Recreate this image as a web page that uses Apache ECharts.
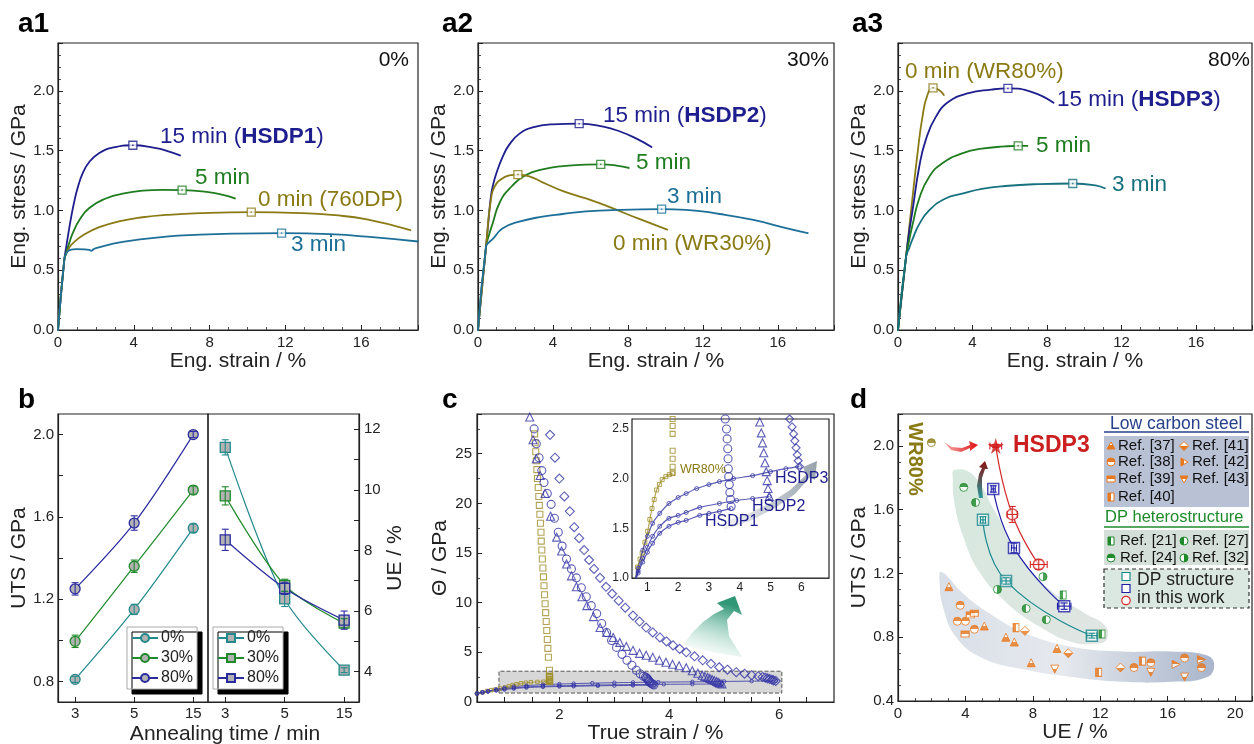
<!DOCTYPE html>
<html><head><meta charset="utf-8">
<script src="https://cdn.jsdelivr.net/npm/echarts@6/dist/echarts.min.js"></script>
<style>html,body{margin:0;padding:0;background:#fff}#c{width:1254px;height:744px}</style>
</head><body><div id="c"></div>
<script>
// ---------------- DATA ----------------
// a1 (0% pre-strain): [strain %, stress GPa]
const a1_15 = [[0,0],[0.33,0.585],[0.42,0.68],[0.56,0.82],[0.69,0.94],[0.86,1.075],[1.04,1.19],[1.3,1.31],[1.65,1.405],[2.18,1.48],[2.89,1.525],[3.95,1.545],[5.17,1.52],[5.7,1.5],[6.44,1.46]];
const a1_5  = [[0,0],[0.33,0.585],[0.42,0.64],[0.6,0.73],[0.78,0.81],[1.13,0.92],[1.65,1.02],[2.53,1.10],[3.41,1.14],[4.47,1.165],[5.5,1.172],[6.55,1.17],[7.84,1.155],[8.7,1.13],[9.34,1.1]];
const a1_0  = [[0,0],[0.33,0.585],[0.42,0.635],[0.6,0.69],[0.78,0.725],[1.3,0.79],[2.18,0.86],[3.41,0.915],[4.47,0.943],[5.7,0.962],[7.5,0.977],[10.2,0.985],[12.8,0.978],[14.6,0.96],[16.3,0.925],[18.6,0.836]];
const a1_3  = [[0,0],[0.33,0.585],[0.42,0.635],[0.52,0.66],[0.7,0.672],[0.95,0.676],[1.4,0.675],[1.65,0.67],[1.75,0.662],[1.85,0.672],[2.0,0.684],[3.41,0.736],[5.7,0.78],[7.5,0.797],[9.26,0.806],[11.8,0.81],[14.6,0.8],[16.3,0.78],[19.0,0.74]];
const a1_peaks = [[3.95,1.545],[6.55,1.17],[10.2,0.985],[11.8,0.81]];
// a2 (30%)
const a2_15 = [[0,0],[0.43,0.7],[0.55,0.9],[0.69,1.12],[0.8,1.21],[0.96,1.3],[1.32,1.45],[1.67,1.55],[2.2,1.64],[2.92,1.695],[3.98,1.72],[5.4,1.725],[6.69,1.7],[7.58,1.66],[8.46,1.6],[9.26,1.53]];
const a2_5  = [[0,0],[0.43,0.7],[0.6,0.8],[0.78,0.89],[1.14,1.06],[1.67,1.18],[2.56,1.296],[3.45,1.343],[4.52,1.371],[5.76,1.383],[6.55,1.385],[7.4,1.375],[8.05,1.355]];
const a2_0  = [[0,0],[0.43,0.7],[0.52,0.86],[0.6,0.99],[0.7,1.1],[0.78,1.16],[0.95,1.215],[1.14,1.25],[1.67,1.293],[2.13,1.3],[2.74,1.285],[3.45,1.235],[4.5,1.164],[5.76,1.1],[7.0,1.03],[8.5,0.935],[10.1,0.84]];
const a2_3  = [[0,0],[0.43,0.7],[0.6,0.735],[0.78,0.76],[1.32,0.85],[2.2,0.906],[3.45,0.948],[4.52,0.97],[5.76,0.992],[7.58,1.005],[9.8,1.01],[11.1,1.005],[12.9,0.97],[14.7,0.92],[16.5,0.85],[17.6,0.81]];
const a2_peaks = [[5.4,1.725],[6.55,1.385],[2.13,1.3],[9.8,1.01]];
// a3 (80%)
const a3_0  = [[0,0],[0.43,0.61],[0.78,1.11],[1.05,1.48],[1.31,1.78],[1.58,1.965],[1.88,2.025],[2.2,2.007],[2.46,1.965]];
const a3_15 = [[0,0],[0.43,0.61],[0.6,0.82],[0.78,1.0],[1.14,1.365],[1.49,1.59],[2.02,1.78],[2.73,1.91],[3.79,1.98],[5.0,2.01],[5.9,2.02],[7.2,1.99],[8.35,1.9]];
const a3_5  = [[0,0],[0.43,0.61],[0.6,0.75],[0.78,0.88],[1.14,1.1],[1.67,1.28],[2.38,1.394],[3.44,1.477],[4.5,1.516],[5.74,1.535],[6.45,1.54],[6.95,1.54]];
const a3_3  = [[0,0],[0.43,0.61],[0.6,0.685],[0.78,0.76],[1.14,0.885],[1.67,1.0],[2.55,1.1],[3.44,1.14],[4.5,1.18],[5.74,1.204],[7.55,1.22],[9.38,1.225],[10.6,1.21],[11.1,1.185]];
const a3_peaks = [[1.88,2.025],[5.9,2.02],[6.45,1.54],[9.38,1.225]];

// b
const times = ['3','5','15'];
const uts0 = [0.81,1.15,1.545], uts30 = [0.995,1.36,1.73], uts80 = [1.25,1.57,2.0];
const utsErr0 = [0.015,0.025,0.02], utsErr30 = [0.03,0.03,0.02], utsErr80 = [0.03,0.035,0.015];
const ue0 = [11.4,6.4,4.05], ue30 = [9.8,6.85,5.6], ue80 = [8.35,6.75,5.7];
const ueErr0 = [0.25,0.25,0.08], ueErr30 = [0.3,0.2,0.15], ueErr80 = [0.35,0.2,0.3];

// c: work hardening rate Theta (big markers) and true stress (small markers) vs true strain
const thWR80 = [[1.55,27.0],[1.56,26.1],[1.57,25.2],[1.58,24.3],[1.59,23.4],[1.6,22.5],[1.615,21.6],[1.625,20.7],[1.635,19.8],[1.645,18.9],[1.655,18.0],[1.665,17.1],[1.67,16.2],[1.68,15.3],[1.69,14.4],[1.7,13.5],[1.71,12.6],[1.72,11.7],[1.73,10.8],[1.74,9.9],[1.75,9.0],[1.76,8.1],[1.77,7.2],[1.78,6.3],[1.79,5.4],[1.8,4.5],[1.82,3.2],[1.82,2.6],[1.82,2.53],[1.82,2.45],[1.82,2.28],[1.82,2.2],[1.82,2.12],[1.82,2.06]];
const thHSDP1 = [[1.54,27.5],[1.58,26.0],[1.63,24.6],[1.68,23.3],[1.72,22.1],[1.78,21.0],[1.85,19.9],[1.91,18.5],[1.98,17.1],[2.05,15.7],[2.13,14.4],[2.22,13.4],[2.31,12.5],[2.4,11.5],[2.49,10.6],[2.58,9.7],[2.68,8.9],[2.77,7.9],[2.86,7.0],[2.95,6.2],[3.04,5.5],[3.14,4.8],[3.23,4.2],[3.32,3.7],[3.4,3.2],[3.47,2.85],[3.53,2.6],[3.57,2.5],[3.59,2.4],[3.61,2.3],[3.62,2.2],[3.63,2.1],[3.64,2.02],[3.66,1.94],[3.68,1.86],[3.7,1.79],[3.72,1.72]];
const thHSDP2 = [[1.46,28.7],[1.52,26.4],[1.58,24.5],[1.65,22.8],[1.74,21.0],[1.84,18.7],[1.95,16.6],[2.04,15.2],[2.13,13.9],[2.22,12.7],[2.31,11.6],[2.41,10.6],[2.5,9.7],[2.62,8.6],[2.74,7.5],[2.86,7.0],[2.98,6.5],[3.1,6.0],[3.22,5.6],[3.34,5.2],[3.46,4.9],[3.58,4.7],[3.7,4.5],[3.82,4.2],[3.94,4.0],[4.06,3.8],[4.18,3.65],[4.31,3.45],[4.42,3.15],[4.52,2.9],[4.6,2.7],[4.65,2.57],[4.7,2.46],[4.74,2.36],[4.78,2.26],[4.82,2.16],[4.86,2.07],[4.89,1.98],[4.92,1.9],[4.96,1.82]];
const thHSDP3 = [[1.83,26.9],[1.92,24.6],[2.0,22.5],[2.09,20.7],[2.19,19.2],[2.27,17.6],[2.36,16.5],[2.45,15.3],[2.54,14.3],[2.63,13.4],[2.74,12.5],[2.85,11.6],[2.96,10.9],[3.08,10.2],[3.2,9.5],[3.34,8.7],[3.46,8.1],[3.58,7.5],[3.7,7.0],[3.83,6.5],[3.95,6.1],[4.07,5.7],[4.19,5.35],[4.31,5.0],[4.46,4.6],[4.61,4.2],[4.76,3.85],[4.91,3.5],[5.06,3.25],[5.22,3.0],[5.37,2.85],[5.5,2.7],[5.62,2.6],[5.7,2.52],[5.75,2.45],[5.79,2.38],[5.83,2.31],[5.87,2.24],[5.9,2.18],[5.94,2.12]];
const sWR80  = [[0.5,0.85],[0.6,0.98],[0.68,1.11],[0.76,1.19],[0.83,1.25],[0.92,1.36],[1.01,1.47],[1.08,1.59],[1.15,1.7],[1.22,1.79],[1.3,1.886],[1.39,1.94],[1.48,1.99],[1.6,2.02],[1.71,2.04],[1.82,2.05]];
const sHSDP1 = [[0.5,0.85],[0.6,0.96],[0.7,1.05],[0.85,1.16],[1.0,1.26],[1.17,1.35],[1.4,1.45],[1.7,1.52],[2.0,1.56],[2.26,1.58],[2.7,1.63],[3.0,1.65],[3.34,1.67],[3.72,1.7]];
const sHSDP2 = [[0.5,0.85],[0.6,0.97],[0.7,1.07],[0.85,1.2],[1.0,1.31],[1.17,1.42],[1.4,1.52],[1.7,1.6],[2.0,1.63],[2.26,1.66],[2.7,1.71],[3.34,1.75],[3.9,1.78],[4.42,1.8],[4.96,1.82]];
const sHSDP3 = [[0.5,0.85],[0.6,0.98],[0.7,1.1],[0.85,1.28],[1.0,1.42],[1.17,1.55],[1.4,1.65],[1.7,1.75],[2.0,1.81],[2.26,1.85],[2.6,1.9],[3.0,1.94],[3.34,1.97],[3.8,2.0],[4.42,2.03],[5.0,2.07],[5.5,2.1],[5.94,2.12]];

// d: [UE %, UTS GPa]
const ref37 = [[3.02,1.117],[5.12,0.87],[6.4,0.80],[6.9,0.77],[7.9,0.64],[9.43,0.73]];
const ref38 = [[3.69,1.0],[3.52,0.90],[4.0,0.90],[4.53,0.85],[14.0,0.61],[15.0,0.64],[17.0,0.67],[18.0,0.61]];
const ref39 = [[3.98,0.82],[4.29,0.94],[4.53,0.95]];
const ref40 = [[7.0,0.86],[11.9,0.58],[14.5,0.65]];
const ref41 = [[7.53,0.84],[10.1,0.70],[13.2,0.61]];
const ref42 = [[16.5,0.63],[18.0,0.66]];
const ref43 = [[9.3,0.60],[15.0,0.58],[17.0,0.55]];
const ref21 = [[9.8,1.065],[12.1,0.82]];
const ref24 = [[3.9,1.74]];
const ref27 = [[4.6,1.645],[7.6,0.98],[8.8,0.91]];
const ref32 = [[5.9,1.10],[8.6,1.18]];
const wr80pt = [[1.98,2.02]];
const dp0  = [[5.04,1.536],[6.41,1.153],[11.5,0.81]];
const dp30 = [[5.65,1.73],[6.88,1.36],[9.86,0.995]];
const dp80 = [[6.78,1.57],[8.35,1.256]];
const hsdp3 = [[5.8,2.0]];
const dp0Err  = [[0.15,0.02],[0.25,0.02],[0.3,0.015]];
const dp30Err = [[0.12,0.02],[0.15,0.03],[0.4,0.02]];
const dp80Err = [[0.3,0.05],[0.5,0.03]];
const hsdp3Err = [[0.35,0.01]];
// shaded regions outline (UE, UTS)
const lowBlob = [[2.57,1.21],[3.84,1.076],[5.41,0.95],[7.57,0.825],[10.3,0.74],[13.25,0.71],[16.2,0.71],[18.2,0.69],[18.75,0.637],[18.35,0.55],[16.2,0.52],[13.25,0.52],[10.3,0.55],[7.37,0.6],[5.0,0.67],[3.45,0.8],[2.67,0.99],[2.47,1.14]];
const dpBlob = [[3.35,1.85],[4.43,1.82],[5.8,1.58],[7.57,1.26],[9.35,1.07],[11.1,0.95],[12.3,0.87],[12.4,0.79],[11.9,0.76],[10.3,0.77],[8.35,0.87],[6.4,1.02],[4.82,1.21],[3.84,1.44],[3.35,1.64],[3.25,1.79]];

// ---------------- STYLE ----------------
const FONT = "'Liberation Sans', Arial, Helvetica, sans-serif";
const NAVY='#1e1e8e', GREEN='#1f7d1f', OLIVE='#8a7a14', TEAL='#1d6f98', TEAL3='#17717f';
const BTEAL='#23898c', BGREEN='#1f8a2a', BNAVY='#2b2ba0';
const CNAVY='#3535a5', COLIVE='#a08e2a';
const DTEAL='#1a8a8e', DNAVY='#1f1fa8', RED='#d42a2a', ORANGE='#e8781e', DPG='#1e8a2a';

function merge(a,b){const o=Object.assign({},a);for(const k in b){if(b[k]&&typeof b[k]==='object'&&!Array.isArray(b[k])&&a[k]&&typeof a[k]==='object'&&!Array.isArray(a[k]))o[k]=Object.assign({},a[k],b[k]);else o[k]=b[k];}return o;}
function ax(extra){
  return merge({
    type:'value', nameLocation:'middle',
    axisLine:{show:true,onZero:false,lineStyle:{color:'#222',width:1.2}},
    axisTick:{show:true,inside:true,length:5,lineStyle:{color:'#222',width:1}},
    minorTick:{show:true,length:3,lineStyle:{color:'#222',width:0.8}},
    splitLine:{show:false}, minorSplitLine:{show:false},
    axisLabel:{color:'#222',fontSize:15,fontFamily:FONT,margin:5,showMaxLabel:false},
    nameTextStyle:{color:'#222',fontSize:21,fontFamily:FONT}
  }, extra);
}
const gridBase = {show:true,borderColor:'#222',borderWidth:1.2,containLabel:false,outerBoundsMode:'none'};
const grids = [
  {left:58,top:43,width:360,height:287},
  {left:478,top:43,width:356,height:287},
  {left:898,top:43,width:354,height:287},
  {left:58,top:414,width:150,height:288},
  {left:208,top:414,width:151,height:288},
  {left:477,top:414,width:357,height:288},
  {left:632,top:419,width:197,height:159,backgroundColor:'#fff',z:5},
  {left:898,top:414,width:354,height:287}
].map(g=>Object.assign({},gridBase,g));

const f1 = v=>v.toFixed(1);
const xAxes=[], yAxes=[];
for(let i=0;i<3;i++){
  xAxes.push(ax({gridIndex:i,min:0,max:19,interval:4,name:'Eng. strain / %',nameGap:19,minorTick:{splitNumber:4}}));
  yAxes.push(ax({gridIndex:i,min:0,max:2.4,interval:0.5,name:'Eng. stress / GPa',nameGap:25,axisLabel:{formatter:f1,margin:4},minorTick:{splitNumber:5}}));
}
// b
xAxes.push(ax({gridIndex:3,min:-0.29,max:2.25,axisLabel:{customValues:[0,1,2],formatter:v=>times[Math.round(v)],showMaxLabel:true,margin:4},axisTick:{customValues:[0,1,2]},minorTick:{show:false}}));
yAxes.push(ax({gridIndex:3,min:0.7,max:2.1,name:'UTS / GPa',nameGap:25,axisLabel:{customValues:[0.8,1.2,1.6,2.0],formatter:f1,showMaxLabel:true,margin:4},axisTick:{customValues:[0.8,1.0,1.2,1.4,1.6,1.8,2.0]},minorTick:{show:false}}));
xAxes.push(ax({gridIndex:4,min:-0.29,max:2.25,axisLabel:{customValues:[0,1,2],formatter:v=>times[Math.round(v)],showMaxLabel:true,margin:4},axisTick:{customValues:[0,1,2]},minorTick:{show:false}}));
yAxes.push(ax({gridIndex:4,position:'right',min:3,max:12.5,name:'UE / %',nameGap:21,nameRotate:90,axisLabel:{customValues:[4,6,8,10,12],showMaxLabel:true,margin:5},axisTick:{customValues:[3,4,5,6,7,8,9,10,11,12]},minorTick:{show:false}}));
// c
xAxes.push(ax({gridIndex:5,min:0.5,max:7,interval:0.5,name:'True strain / %',nameGap:19,axisLabel:{formatter:v=>(Math.abs(v%2)<1e-6?String(v):'')},minorTick:{show:false}}));
yAxes.push(ax({gridIndex:5,min:0,max:29,interval:5,name:'\u0398 / GPa',nameGap:26,minorTick:{splitNumber:2}}));
xAxes.push(ax({gridIndex:6,min:0.5,max:6.9,interval:0.5,axisLabel:{fontSize:12,margin:4,formatter:v=>(Math.abs(v%1)<1e-6?String(v):'')},axisTick:{length:4},minorTick:{show:false},axisLine:{lineStyle:{color:'#555',width:1}}}));
yAxes.push(ax({gridIndex:6,min:1.0,max:2.6,interval:0.5,axisLabel:{fontSize:12,margin:3,formatter:f1},axisTick:{length:4},minorTick:{splitNumber:5,length:2},axisLine:{lineStyle:{color:'#555',width:1}}}));
// d
xAxes.push(ax({gridIndex:7,min:0,max:21,interval:4,name:'UE / %',nameGap:19,minorTick:{splitNumber:4}}));
yAxes.push(ax({gridIndex:7,min:0.4,max:2.2,interval:0.4,name:'UTS / GPa',nameGap:28,axisLabel:{formatter:f1,margin:4},minorTick:{splitNumber:4}}));

// ---------------- SERIES ----------------
const series=[];
function curve(gi,data,color){
  series.push({type:'line',xAxisIndex:gi,yAxisIndex:gi,data,symbol:'none',smooth:0.5,lineStyle:{color,width:1.8,cap:'round',join:'round'},z:3,silent:true});
}
function peaks(gi,pts,colors){
  pts.forEach((p,i)=>{
    series.push({type:'scatter',xAxisIndex:gi,yAxisIndex:gi,data:[p],symbol:'rect',symbolSize:8,itemStyle:{color:'#fff',borderColor:colors[i],borderWidth:1.3},z:5,silent:true});
    series.push({type:'scatter',xAxisIndex:gi,yAxisIndex:gi,data:[p],symbol:'rect',symbolSize:1.5,itemStyle:{color:colors[i]},z:6,silent:true});
  });
}
curve(0,a1_15,NAVY);curve(0,a1_5,GREEN);curve(0,a1_0,OLIVE);curve(0,a1_3,TEAL);
peaks(0,a1_peaks,[NAVY,GREEN,OLIVE,TEAL]);
curve(1,a2_15,NAVY);curve(1,a2_5,GREEN);curve(1,a2_0,OLIVE);curve(1,a2_3,TEAL);
peaks(1,a2_peaks,[NAVY,GREEN,OLIVE,TEAL]);
curve(2,a3_0,OLIVE);curve(2,a3_15,NAVY);curve(2,a3_5,GREEN);curve(2,a3_3,TEAL3);
peaks(2,a3_peaks,[OLIVE,NAVY,GREEN,TEAL3]);

// error bars
function errRender(params,api){
  const x=api.value(0),y=api.value(1),ex=api.value(2),ey=api.value(3);
  const color=api.visual('color');const cap=3.5;const ch=[];
  const st={stroke:color,lineWidth:1.1};
  if(ey>0){const a=api.coord([x,y-ey]),b=api.coord([x,y+ey]);
    ch.push({type:'line',shape:{x1:a[0],y1:a[1],x2:b[0],y2:b[1]},style:st});
    ch.push({type:'line',shape:{x1:a[0]-cap,y1:a[1],x2:a[0]+cap,y2:a[1]},style:st});
    ch.push({type:'line',shape:{x1:b[0]-cap,y1:b[1],x2:b[0]+cap,y2:b[1]},style:st});}
  if(ex>0){const a=api.coord([x-ex,y]),b=api.coord([x+ex,y]);
    ch.push({type:'line',shape:{x1:a[0],y1:a[1],x2:b[0],y2:b[1]},style:st});
    ch.push({type:'line',shape:{x1:a[0],y1:a[1]-cap,x2:a[0],y2:a[1]+cap},style:st});
    ch.push({type:'line',shape:{x1:b[0],y1:b[1]-cap,x2:b[0],y2:b[1]+cap},style:st});}
  return {type:'group',children:ch};
}
function errSeries(gi,data,color,z){
  series.push({type:'custom',xAxisIndex:gi,yAxisIndex:gi,renderItem:errRender,data,itemStyle:{color},z:z||6,silent:true,clip:false});
}
// b series
function bLine(gi,name,vals,errs,color,sym){
  series.push({type:'line',name,xAxisIndex:gi,yAxisIndex:gi,data:vals.map((v,i)=>[i,v]),smooth:0.3,symbol:sym,symbolSize:10,
    lineStyle:{color,width:1.2},itemStyle:{color:'#b2b2b2',borderColor:color,borderWidth:1.3},z:4,silent:true});
  errSeries(gi,vals.map((v,i)=>[i,v,0,errs[i]]),color,6);
}
bLine(3,'0%',uts0,utsErr0,BTEAL,'circle');
bLine(3,'30%',uts30,utsErr30,BGREEN,'circle');
bLine(3,'80%',uts80,utsErr80,BNAVY,'circle');
bLine(4,'0% ',ue0,ueErr0,BTEAL,'rect');
bLine(4,'30% ',ue30,ueErr30,BGREEN,'rect');
bLine(4,'80% ',ue80,ueErr80,BNAVY,'rect');

// c series
function cSeries(gi,big){
  const hollow=(c,w)=>({color:'rgba(0,0,0,0)',borderColor:c,borderWidth:w});
  const th=(data,sym,size,c)=>series.push({type:'scatter',xAxisIndex:gi,yAxisIndex:gi,data,symbol:sym,symbolSize:size,itemStyle:hollow(c,1.1),z:gi===6?8:3,silent:true,clip:true});
  const st=(data,sym,c)=>series.push({type:'line',xAxisIndex:gi,yAxisIndex:gi,data,symbol:sym,showSymbol:true,symbolSize:big?4:3.5,smooth:0.3,
    lineStyle:{color:c,width:big?1.2:1,opacity:0.8},itemStyle:hollow(c,0.8),z:gi===6?8:3,silent:true,clip:true});
  st(sWR80,'rect',COLIVE); st(sHSDP1,'circle',CNAVY); st(sHSDP2,'circle',CNAVY); st(sHSDP3,'circle',CNAVY);
  th(thWR80,'rect',big?5:6,COLIVE);
  th(thHSDP1,'circle',8,CNAVY);
  th(thHSDP2,'triangle',8,CNAVY);
  th(thHSDP3,'diamond',big?8:9,CNAVY);
}
cSeries(5,false);
cSeries(6,true);
series.push({type:'line',xAxisIndex:5,yAxisIndex:5,data:[],symbol:'none',silent:true,z:4,
  markArea:{silent:true,itemStyle:{color:'rgba(150,150,150,0.38)',borderColor:'#555',borderWidth:1,borderType:'dashed'},
    data:[[{coord:[0.9,0.9]},{coord:[6.05,3.1]}]]}});

// d series
function blob(outline,fill){
  series.push({type:'custom',xAxisIndex:7,yAxisIndex:7,data:[[0,0]],silent:true,z:1,clip:false,
    renderItem:(p,api)=>({type:'polygon',shape:{points:outline.map(q=>api.coord(q)),smooth:0.45},style:{fill}})});
}
blob(lowBlob,new echarts.graphic.LinearGradient(0,0,1,0,[{offset:0,color:'#d9dfe8'},{offset:0.45,color:'#e6e9ee'},{offset:1,color:'#a8b5cb'}]));
blob(dpBlob,new echarts.graphic.LinearGradient(0,0,1,1,[{offset:0,color:'#d6e9de'},{offset:1,color:'#e0e5e3'}]));
function half(c,dir){
  const v=(dir==='top'||dir==='bottom');const first=(dir==='top'||dir==='left')?c:'#fff';const second=first===c?'#fff':c;
  return {type:'linear',x:0,y:0,x2:v?0:1,y2:v?1:0,colorStops:[{offset:0,color:first},{offset:0.5,color:first},{offset:0.5,color:second},{offset:1,color:second}]};
}
function refS(data,sym,size,c,dir,rot){
  series.push({type:'scatter',xAxisIndex:7,yAxisIndex:7,data,symbol:sym,symbolSize:size,symbolRotate:rot||0,itemStyle:{color:half(c,dir),borderColor:c,borderWidth:1},z:4,silent:true});
}
refS(ref37,'triangle',8,ORANGE,'bottom');
refS(ref38,'circle',8,ORANGE,'top');
refS(ref39,'rect',[8,6],ORANGE,'top');
refS(ref40,'rect',[6,8],ORANGE,'left');
refS(ref41,'diamond',9,ORANGE,'bottom');
refS(ref42,'triangle',8,ORANGE,'left',-90);
refS(ref43,'triangle',8,ORANGE,'top',180);
refS(ref21,'rect',[6,8],DPG,'left');
refS(ref24,'circle',8,DPG,'top');
refS(ref27,'circle',8,DPG,'left');
refS(ref32,'circle',8,DPG,'right');
refS(wr80pt,'circle',8,OLIVE,'top');
function dLine(pts,c){series.push({type:'line',xAxisIndex:7,yAxisIndex:7,data:pts,symbol:'none',smooth:0.5,lineStyle:{color:c,width:1.2},z:4,silent:true});}
dLine(dp0,DTEAL); dLine(dp30,DNAVY); dLine(hsdp3.concat(dp80),RED);
function dMark(pts,errs,c,sym){
  series.push({type:'scatter',xAxisIndex:7,yAxisIndex:7,data:pts,symbol:sym,symbolSize:11,itemStyle:{color:'rgba(255,255,255,0.85)',borderColor:c,borderWidth:1.5},z:5,silent:true});
  errSeries(7,pts.map((p,i)=>[p[0],p[1],errs[i][0],errs[i][1]]),c,6);
}
dMark(dp0,dp0Err,DTEAL,'rect'); dMark(dp30,dp30Err,DNAVY,'rect'); dMark(dp80,dp80Err,RED,'circle');
errSeries(7,hsdp3.map((p,i)=>[p[0],p[1],hsdp3Err[i][0],hsdp3Err[i][1]]),RED,5);
series.push({type:'scatter',xAxisIndex:7,yAxisIndex:7,data:hsdp3,symbol:'path://M50,0 L61,35 L98,35 L68,57 L79,91 L50,70 L21,91 L32,57 L2,35 L39,35 Z',symbolSize:16,itemStyle:{color:'#d01818'},z:7,silent:true});

// ---------------- TEXT / DECORATION ----------------
const G=[];
function txt(x,y,text,o){G.push({type:'text',x,y,z:100,silent:true,style:Object.assign({text,fill:'#111',fontSize:21,fontFamily:FONT,align:'left',verticalAlign:'middle'},o||{})});}
function poly(points,fill,z){G.push({type:'polygon',z:z||60,silent:true,shape:{points},style:{fill}});}
const boldRich=(c,fs)=>({b:{fontWeight:'bold',fill:c,fontSize:fs,fontFamily:FONT}});
// panel letters
[['a1',18,24],['a2',442,24],['a3',852,24],['b',18,400],['c',442,400],['d',850,400]].forEach(l=>txt(l[1],l[2],l[0],{fontSize:28,fontWeight:'bold',fill:'#000'}));
// a1
txt(160,137,'15 min ({b|HSDP1})',{fill:NAVY,fontSize:22.5,rich:boldRich(NAVY,22.5)});
txt(195,178,'5 min',{fill:GREEN,fontSize:22.5});
txt(258,200,'0 min (760DP)',{fill:OLIVE,fontSize:22.5});
txt(291,245,'3 min',{fill:TEAL,fontSize:22.5});
txt(409,60,'0%',{align:'right',fontSize:21});
// a2
txt(603,116,'15 min ({b|HSDP2})',{fill:NAVY,fontSize:22.5,rich:boldRich(NAVY,22.5)});
txt(636,163,'5 min',{fill:GREEN,fontSize:22.5});
txt(667,197,'3 min',{fill:TEAL,fontSize:22.5});
txt(613,244,'0 min (WR30%)',{fill:OLIVE,fontSize:22.5});
txt(829,60,'30%',{align:'right',fontSize:21});
// a3
txt(905,72,'0 min (WR80%)',{fill:OLIVE,fontSize:22.5});
txt(1057,100,'15 min ({b|HSDP3})',{fill:NAVY,fontSize:22.5,rich:boldRich(NAVY,22.5)});
txt(1036,146,'5 min',{fill:GREEN,fontSize:22.5});
txt(1112,185,'3 min',{fill:TEAL3,fontSize:22.5});
txt(1250,60,'80%',{align:'right',fontSize:21});
// b x name
txt(225,734,'Annealing time / min',{align:'center',fontSize:21,fill:'#222'});
// c decorations
poly([[683,645],[692,633],[703,622],[714,614],[724,609],[717,603],[735,596],[742,615],[734,611],[727,620],[729,636],[742,657],[712,652]],
  new echarts.graphic.LinearGradient(0,1,0.3,0,[{offset:0,color:'rgba(210,240,230,0)'},{offset:1,color:'#2f9676'}]),1);
poly([[722,522],[748,514],[770,503],[790,490],[806,475],[803,467],[817,461],[815,480],[810,477],[795,494],[775,508],[750,521],[724,530]],
  new echarts.graphic.LinearGradient(0,0,1,0,[{offset:0,color:'rgba(160,170,178,0.1)'},{offset:1,color:'#97a2ab'}]),60);
txt(680,470,'WR80%',{fill:OLIVE,fontSize:12.5});
txt(775,479,'HSDP3',{fill:NAVY,fontSize:16});
txt(752,507,'HSDP2',{fill:NAVY,fontSize:16});
txt(705,522,'HSDP1',{fill:NAVY,fontSize:16});
// d decorations
poly([[944,442],[952,447],[962,448],[970,445],[969,441],[978,445],[970,451],[970,448],[961,452],[951,450]],
  new echarts.graphic.LinearGradient(0,0,1,0,[{offset:0,color:'#f5b0b0'},{offset:1,color:'#e01010'}]),60);
poly([[979,498],[977,486],[979,474],[982,468],[979,467],[985,461],[988,469],[985,469],[982,478],[982,488],[983,498]],
  new echarts.graphic.LinearGradient(0,1,0,0,[{offset:0,color:'#2a9a9a'},{offset:1,color:'#8a1010'}]),60);
txt(1013,446,'HSDP3',{fill:'#cc1f1f',fontSize:23,fontWeight:'bold'});
G.push({type:'text',x:915,y:459,rotation:-Math.PI/2,z:100,silent:true,style:{text:'WR80%',fill:OLIVE,fontSize:20,fontWeight:'bold',fontFamily:FONT,align:'center',verticalAlign:'middle'}});
// d legend
txt(1110,424,'Low carbon steel',{fill:'#27408b',fontSize:17.5});
G.push({type:'line',z:90,silent:true,shape:{x1:1104,y1:432,x2:1249,y2:432},style:{stroke:'#27408b',lineWidth:1.5}});
G.push({type:'rect',z:80,silent:true,shape:{x:1104,y:436,width:145,height:71},style:{fill:'#b9c1d5'}});
txt(1105,517,'DP heterostructure',{fill:DPG,fontSize:16.5});
G.push({type:'line',z:90,silent:true,shape:{x1:1104,y1:527,x2:1249,y2:527},style:{stroke:DPG,lineWidth:1.5}});
G.push({type:'rect',z:80,silent:true,shape:{x:1104,y:530,width:145,height:35},style:{fill:'#d5dfd9'}});
G.push({type:'rect',z:80,silent:true,shape:{x:1104,y:569,width:145,height:39},style:{fill:'#dbe8e1',stroke:'#333',lineWidth:1.2,lineDash:[4,3]}});
function lsym(kind,cx,cy,c,dir){
  const st={fill:half(c,dir),stroke:c,lineWidth:1};let el;
  if(kind==='tri')el={type:'polygon',shape:{points:[[cx,cy-4],[cx+4,cy+3],[cx-4,cy+3]]}};
  else if(kind==='down')el={type:'polygon',shape:{points:[[cx-4,cy-3],[cx+4,cy-3],[cx,cy+4]]}};
  else if(kind==='flag')el={type:'polygon',shape:{points:[[cx-3,cy-4],[cx+4,cy],[cx-3,cy+4]]}};
  else if(kind==='dia')el={type:'polygon',shape:{points:[[cx,cy-4.5],[cx+4.5,cy],[cx,cy+4.5],[cx-4.5,cy]]}};
  else if(kind==='bar')el={type:'rect',shape:{x:cx-4,y:cy-3,width:8,height:6}};
  else if(kind==='vbar')el={type:'rect',shape:{x:cx-3,y:cy-4,width:6,height:8}};
  else el={type:'circle',shape:{cx,cy,r:4}};
  el.style=st;el.z=95;el.silent=true;G.push(el);
}
lsym('tri',1111,446,ORANGE,'bottom');txt(1118,446,'Ref. [37]',{fontSize:15});
lsym('circ',1111,462,ORANGE,'top');txt(1118,462,'Ref. [38]',{fontSize:15});
lsym('bar',1111,479,ORANGE,'top');txt(1118,479,'Ref. [39]',{fontSize:15});
lsym('vbar',1111,497,ORANGE,'left');txt(1118,497,'Ref. [40]',{fontSize:15});
lsym('dia',1184,446,ORANGE,'bottom');txt(1192,446,'Ref. [41]',{fontSize:15});
lsym('flag',1184,462,ORANGE,'left');txt(1192,462,'Ref. [42]',{fontSize:15});
lsym('down',1184,479,ORANGE,'top');txt(1192,479,'Ref. [43]',{fontSize:15});
lsym('vbar',1111,541,DPG,'left');txt(1120,541,'Ref. [21]',{fontSize:15});
lsym('circ',1111,558,DPG,'top');txt(1120,558,'Ref. [24]',{fontSize:15});
lsym('circ',1184,541,DPG,'left');txt(1192,541,'Ref. [27]',{fontSize:15});
lsym('circ',1184,558,DPG,'right');txt(1192,558,'Ref. [32]',{fontSize:15});
G.push({type:'rect',z:95,silent:true,shape:{x:1122,y:572.5,width:8,height:8},style:{fill:'#fff',stroke:DTEAL,lineWidth:1.2}});
G.push({type:'rect',z:95,silent:true,shape:{x:1122,y:584.5,width:8,height:8},style:{fill:'#fff',stroke:DNAVY,lineWidth:1.2}});
G.push({type:'circle',z:95,silent:true,shape:{cx:1126,cy:600.5,r:4.2},style:{fill:'#fff',stroke:RED,lineWidth:1.2}});
txt(1137,580,'DP structure',{fontSize:17.5,fill:'#222'});
txt(1137,598.5,'in this work',{fontSize:17.5,fill:'#222'});

// ---------------- LEGENDS (panel b) ----------------
const legBase={orient:'vertical',top:627,backgroundColor:'#fff',borderColor:'#aaa',borderWidth:1,padding:[3,4,3,4],itemGap:4,itemWidth:26,itemHeight:10,
  textStyle:{fontSize:16,fontFamily:FONT,color:'#222',padding:[0,0,0,-2]},shadowColor:'#000',shadowOffsetX:5,shadowOffsetY:5,shadowBlur:0,selectedMode:false,z:20};
const legends=[Object.assign({},legBase,{left:127,data:['0%','30%','80%']}),
  Object.assign({},legBase,{left:213,data:['0% ','30% ','80% '],formatter:n=>n.trim()})];

const chart=echarts.init(document.getElementById('c'),null,{renderer:'canvas'});
chart.setOption({animation:false,backgroundColor:'#fff',textStyle:{fontFamily:FONT},
  grid:grids,xAxis:xAxes,yAxis:yAxes,series,legend:legends,graphic:{elements:G}});
</script></body></html>
